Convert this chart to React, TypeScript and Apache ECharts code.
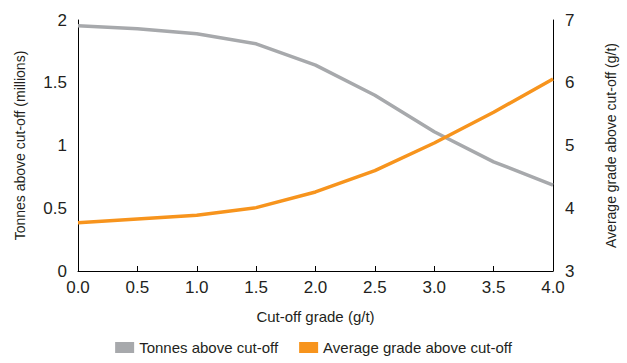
import React, { useEffect, useRef } from "react";
import * as echarts from "echarts";

const cutoffGrades = [0.0, 0.5, 1.0, 1.5, 2.0, 2.5, 3.0, 3.5, 4.0];
const tonnesMillions = [1.955, 1.93, 1.89, 1.81, 1.64, 1.4, 1.11, 0.87, 0.685];
const avgGrade = [3.77, 3.83, 3.89, 4.01, 4.26, 4.6, 5.04, 5.53, 6.06];
const seriesNames = ["Tonnes above cut-off", "Average grade above cut-off"];

const FONT = '"Liberation Sans Narrow", "Arial Narrow", "Liberation Sans", Arial, sans-serif';
const TEXT = "#231f20";

export default function App() {
  const ref = useRef<HTMLDivElement>(null);
  useEffect(() => {
    if (!ref.current) return;
    const chart = echarts.init(ref.current, undefined, { renderer: "svg" });
    chart.setOption({
      animation: false,
      textStyle: { fontFamily: FONT, color: TEXT },
      grid: { left: 78, right: 74, top: 20, bottom: 92 },
      legend: {
        bottom: 3,
        left: "center",
        icon: "rect",
        itemWidth: 19,
        itemHeight: 11,
        itemGap: 21,
        textStyle: { fontFamily: FONT, fontSize: 15, color: TEXT },
        data: seriesNames,
      },
      xAxis: {
        type: "value",
        min: 0,
        max: 4,
        interval: 0.5,
        name: "Cut-off grade (g/t)",
        nameLocation: "middle",
        nameGap: 38,
        nameTextStyle: { fontFamily: FONT, fontSize: 15, color: TEXT },
        axisLine: { lineStyle: { color: "#000", width: 1 } },
        axisTick: { inside: true, length: 5, lineStyle: { color: "#000" } },
        axisLabel: {
          formatter: (v: number) => v.toFixed(1),
          fontFamily: FONT,
          fontSize: 17,
          color: TEXT,
          margin: 8,
        },
        splitLine: { show: false },
      },
      yAxis: [
        {
          type: "value",
          min: 0,
          max: 2,
          interval: 0.5,
          name: "Tonnes above cut-off (millions)",
          nameLocation: "middle",
          nameGap: 51,
          nameTextStyle: { fontFamily: FONT, fontSize: 14, color: TEXT },
          axisLine: { show: true, lineStyle: { color: "#000", width: 1 } },
          axisTick: { show: false },
          axisLabel: { fontFamily: FONT, fontSize: 17, color: TEXT, margin: 11 },
          splitLine: { show: false },
        },
        {
          type: "value",
          min: 3,
          max: 7,
          interval: 1,
          name: "Average grade above cut-off (g/t)",
          nameLocation: "middle",
          nameGap: 51,
          nameTextStyle: { fontFamily: FONT, fontSize: 14, color: TEXT },
          axisLine: { show: true, lineStyle: { color: "#000", width: 1 } },
          axisTick: { show: false },
          axisLabel: { fontFamily: FONT, fontSize: 17, color: TEXT, margin: 12 },
          splitLine: { show: false },
        },
      ],
      series: [
        {
          name: seriesNames[0],
          type: "line",
          yAxisIndex: 0,
          showSymbol: false,
          itemStyle: { color: "#a7a9ac" },
          lineStyle: { color: "#a7a9ac", width: 3.5 },
          data: cutoffGrades.map((x, i) => [x, tonnesMillions[i]]),
        },
        {
          name: seriesNames[1],
          type: "line",
          yAxisIndex: 1,
          showSymbol: false,
          itemStyle: { color: "#f7941d" },
          lineStyle: { color: "#f7941d", width: 3.5 },
          data: cutoffGrades.map((x, i) => [x, avgGrade[i]]),
        },
      ],
    });
    return () => chart.dispose();
  }, []);
  return <div ref={ref} style={{ width: 627, height: 363, position: "absolute", left: 0, top: 0 }} />;
}
